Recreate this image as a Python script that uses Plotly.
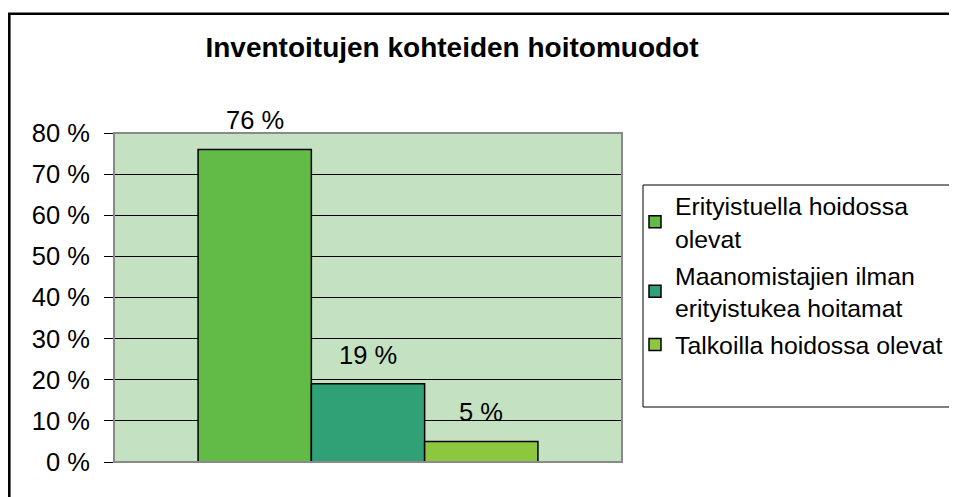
import plotly.graph_objects as go

categories = ["Inventoidut kohteet"]
series_names = [
    "Erityistuella hoidossa<br>olevat",
    "Maanomistajien ilman<br>erityistukea hoitamat",
    "Talkoilla hoidossa olevat",
]
series_values = [76, 19, 5]
series_colors = ["#62BB46", "#30A176", "#8DC63F"]
tick_values = [0, 10, 20, 30, 40, 50, 60, 70, 80]
tick_labels = [f"{v} %" for v in tick_values]
title_text = "Inventoitujen kohteiden hoitomuodot"

# page body has an 8px margin, so the figure is 949x489
W, H = 949, 489
ML, MR, MT, MB = 106, 335, 125, 35
PW = W - ML - MR
PH = H - MT - MB
BARGAP = 0.331
FONT = "Liberation Sans, Arial, sans-serif"
FS = 25.5
LFS = 24.8

def px_x(p):
    return (p - ML) / PW

def px_y(p):
    return (H - MB - p) / PH

fig = go.Figure()
for i, (name, val, col) in enumerate(zip(series_names, series_values, series_colors)):
    fig.add_trace(go.Bar(
        x=categories, y=[val], name=name,
        marker=dict(color=col, line=dict(color="black", width=1.5)),
        legendgroup=f"g{i}",
        hoverinfo="skip",
    ))

bw = PW * (1 - BARGAP) / len(series_values)
annotations = []
for i, val in enumerate(series_values):
    annotations.append(dict(
        x=categories[0], y=val, xref="x", yref="y",
        text=f"{val} %", showarrow=False,
        xshift=(i - (len(series_values) - 1) / 2) * bw,
        yshift=29, yanchor="middle",
        font=dict(family=FONT, size=FS, color="black"),
    ))

shapes = [
    # plot area border
    dict(type="rect", xref="paper", yref="paper", x0=0, y0=0, x1=1, y1=1,
         line=dict(color="#8a8a8a", width=2), layer="above"),
    # legend box
    dict(type="rect", xref="paper", yref="paper",
         x0=px_x(635), x1=px_x(990), y0=px_y(399), y1=px_y(177),
         line=dict(color="black", width=1), fillcolor="rgba(0,0,0,0)"),
    # outer chart frame
    dict(type="rect", xref="paper", yref="paper",
         x0=px_x(1.3), x1=px_x(1000), y0=px_y(530), y1=px_y(5.7),
         line=dict(color="black", width=2.6), fillcolor="rgba(0,0,0,0)"),
]

fig.update_layout(
    width=W, height=H,
    margin=dict(l=ML, r=MR, t=MT, b=MB, pad=0, autoexpand=False),
    paper_bgcolor="white",
    plot_bgcolor="#C4E2C2",
    barmode="group", bargap=BARGAP, bargroupgap=0,
    title=dict(text=f"<b>{title_text}</b>", x=444 / W, y=1 - 39 / H,
               xanchor="center", yanchor="middle",
               xref="container", yref="container",
               font=dict(family=FONT, size=28, color="black")),
    font=dict(family=FONT, size=FS, color="black"),
    showlegend=True,
    legend=dict(x=px_x(627), y=px_y(175), xanchor="left", yanchor="top",
                bgcolor="rgba(0,0,0,0)", borderwidth=0,
                font=dict(family=FONT, size=LFS, color="black"),
                tracegroupgap=2, itemwidth=30),
    xaxis=dict(showticklabels=False, showgrid=False, zeroline=False,
               showline=False, ticks="", fixedrange=True),
    yaxis=dict(range=[0, 80], tickvals=tick_values, ticktext=tick_labels,
               showgrid=True, gridcolor="black", gridwidth=1,
               zeroline=False, showline=False,
               ticks="outside", ticklen=9, tickcolor="black", tickwidth=1,
               ticklabelstandoff=9,
               tickfont=dict(family=FONT, size=FS, color="black")),
    annotations=annotations,
    shapes=shapes,
)

fig.write_html("out.html")
